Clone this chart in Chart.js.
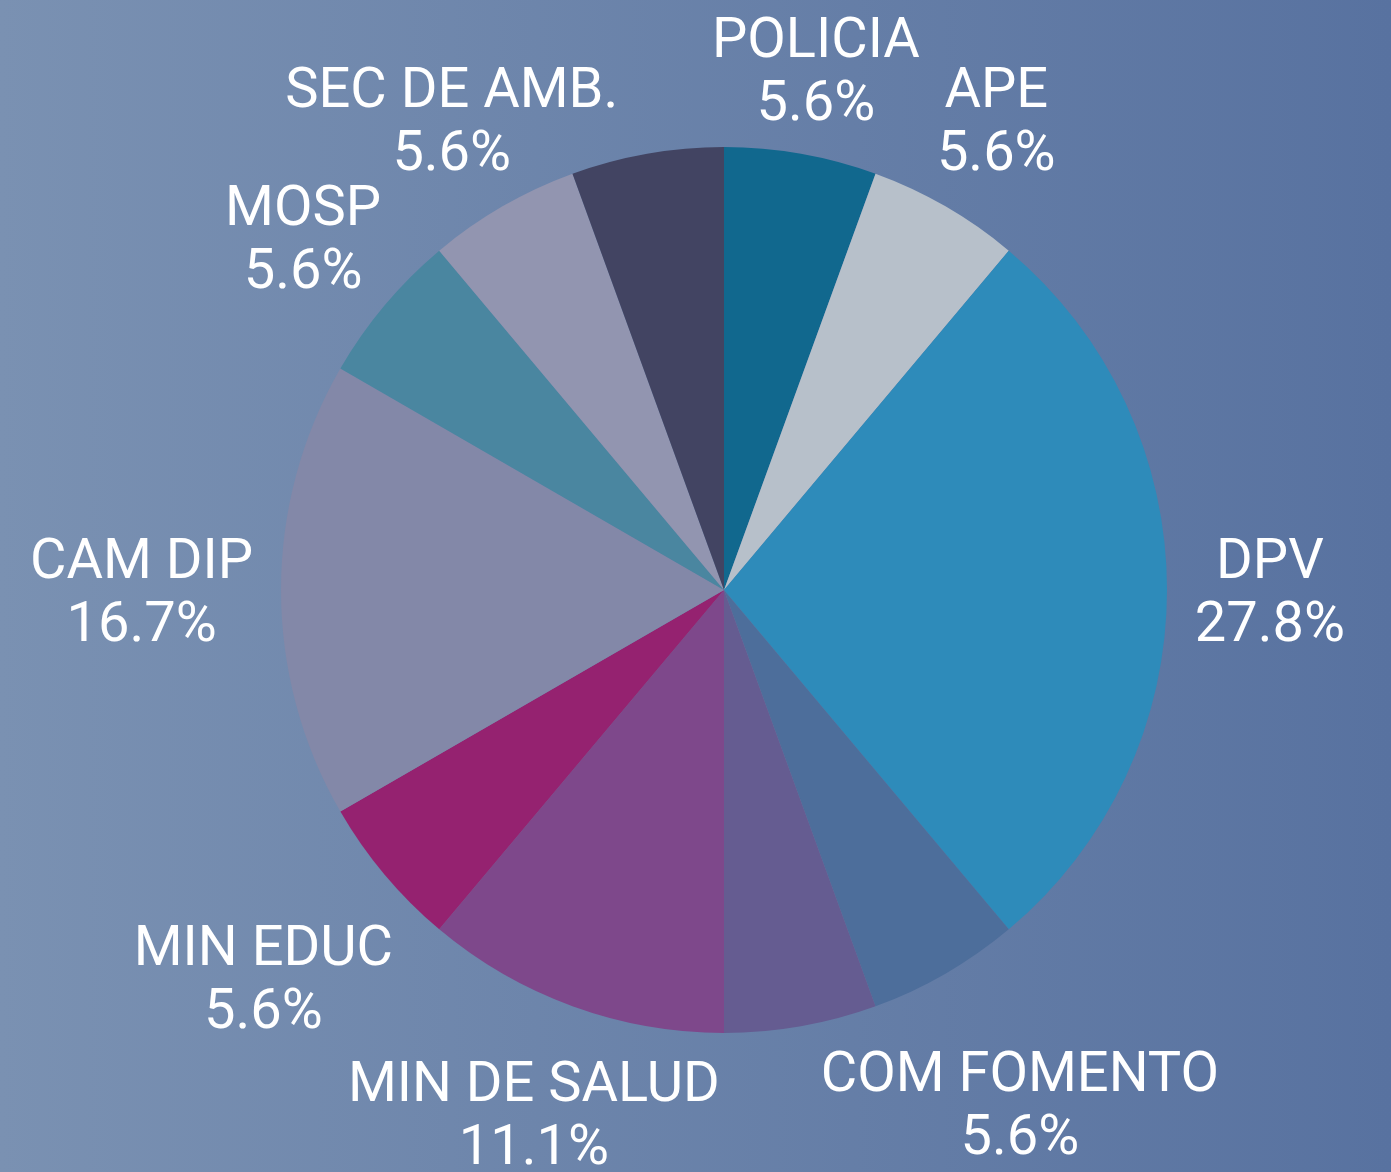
<!DOCTYPE html>
<html>
<head>
<meta charset="utf-8">
<script src="https://cdn.jsdelivr.net/npm/chart.js@4.4.1/dist/chart.umd.min.js"></script>
<style>
  html, body { margin: 0; padding: 0; }
  #wrap {
    width: 1391px; height: 1172px;
    background: linear-gradient(to right, #7a91b2, #5872a0);
  }
</style>
</head>
<body>
<div id="wrap"><canvas id="pieChart"></canvas></div>
<script>
// slices, clockwise from 12 o'clock; two small slices carry no label in the original
const labels = ['POLICIA', 'APE', 'DPV', 'COM FOMENTO', '', 'MIN DE SALUD', 'MIN EDUC', 'CAM DIP', 'MOSP', 'SEC DE AMB.', ''];
const values = [1, 1, 5, 1, 1, 2, 1, 3, 1, 1, 1];
const colors = ['#11688e', '#b7c0ca', '#2e8bba', '#4d6e9b', '#655c91', '#7e488b', '#952270', '#8388a8', '#4a86a0', '#9295b0', '#424462'];

// outside labels: pushed out along the slice mid-angle until the text clears a ring around the pie
const outsideLabels = {
    id: 'outsideLabels',
    afterDraw(chart) {
        const ctx = chart.ctx;
        const meta = chart.getDatasetMeta(0);
        const total = values.reduce((a, b) => a + b, 0);
        const fontSize = 56;
        const capH = fontSize * 0.711;
        const lineGap = 63;
        const half = (capH + lineGap) / 2;
        ctx.save();
        ctx.font = fontSize + 'px Roboto';
        ctx.fillStyle = '#ffffff';
        ctx.textAlign = 'center';
        ctx.textBaseline = 'alphabetic';
        meta.data.forEach((arc, i) => {
            if (!labels[i]) return;
            const lines = [labels[i], (values[i] / total * 100).toFixed(1) + '%'];
            const w = lines.map(t => ctx.measureText(t).width);
            const mid = (arc.startAngle + arc.endAngle) / 2;
            const ux = Math.cos(mid), uy = Math.sin(mid);
            const ring = arc.outerRadius + 28;
            const boxes = d => {
                const cx = ux * d, cy = uy * d;
                return [
                    [cx - w[0] / 2, cx + w[0] / 2, cy - half, cy - half + capH],
                    [cx - w[1] / 2, cx + w[1] / 2, cy + half - capH, cy + half]
                ];
            };
            const clear = d => boxes(d).every(b => {
                const nx = Math.max(b[0], Math.min(0, b[1]));
                const ny = Math.max(b[2], Math.min(0, b[3]));
                return Math.hypot(nx, ny) >= ring;
            });
            let lo = 0, hi = ring + 400;
            for (let k = 0; k < 40; k++) {
                const m = (lo + hi) / 2;
                if (clear(m)) hi = m; else lo = m;
            }
            const x = arc.x + ux * hi, y = arc.y + uy * hi;
            ctx.fillText(lines[0], x, y - half + capH);
            ctx.fillText(lines[1], x, y + half);
        });
        ctx.restore();
    }
};

const ctx = document.getElementById('pieChart').getContext('2d');
new Chart(ctx, {
    type: 'pie',
    data: {
        labels: labels,
        datasets: [{
            data: values,
            backgroundColor: colors,
            borderWidth: 0,
            hoverOffset: 0
        }]
    },
    options: {
        responsive: true,
        maintainAspectRatio: false,
        animation: false,
        layout: {
            padding: { top: 147, bottom: 139, left: 57, right: 0 }
        },
        plugins: {
            legend: { display: false },
            tooltip: { enabled: false }
        }
    },
    plugins: [outsideLabels]
});
</script>
</body>
</html>
